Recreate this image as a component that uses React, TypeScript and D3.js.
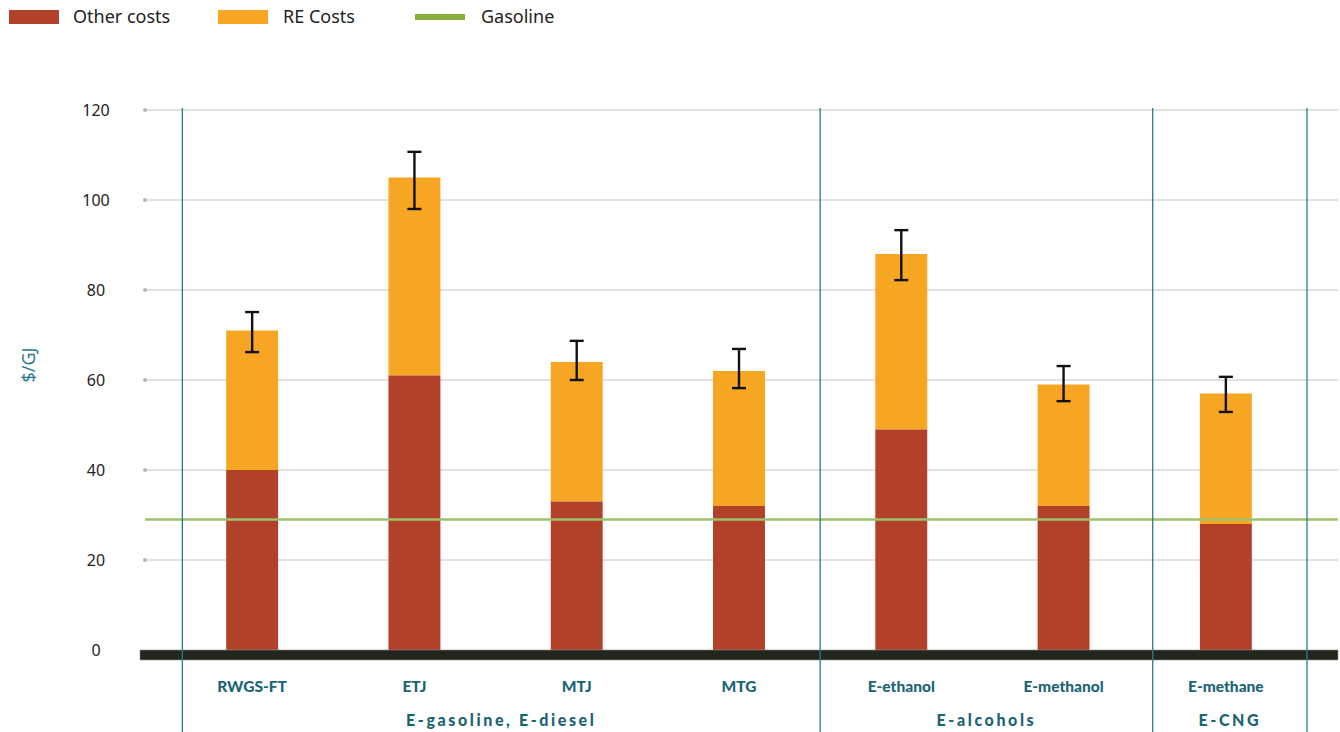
import React from "react";
import * as d3 from "d3";

const categories = ["RWGS-FT", "ETJ", "MTJ", "MTG", "E-ethanol", "E-methanol", "E-methane"];
const otherCosts = [40, 61, 33, 32, 49, 32, 28];
const totalCosts = [71, 105, 64, 62, 88, 59, 57];
const errLow = [66.2, 98, 60, 58.2, 82.2, 55.3, 52.9];
const errHigh = [75.1, 110.7, 68.7, 66.9, 93.3, 63.1, 60.7];
const gasoline = 29;
const yTicks = [0, 20, 40, 60, 80, 100, 120];
const groups = [
  { label: "E-gasoline, E-diesel", from: 0, to: 3 },
  { label: "E-alcohols", from: 4, to: 5 },
  { label: "E-CNG", from: 6, to: 6 },
];

const W = 1340;
const H = 732;
const C_OTHER = "#b2412a";
const C_RE = "#f6a623";
const C_GAS = "#8aae3c";
const C_TEAL = "#1b6474";
const C_DIV = "#2b7a8e";

export default function App() {
  const y = d3.scaleLinear().domain([0, 120]).range([650, 110]);
  const x = d3.scaleBand().domain(categories).range([171, 1307]).paddingInner(0.68).paddingOuter(0.34);
  const bw = x.bandwidth();
  const cx = (c: string) => (x(c) as number) + bw / 2;
  const step = x.step();
  const dividers = [
    cx(categories[0]) - step * 0.43,
    (cx(categories[3]) + cx(categories[4])) / 2,
    (cx(categories[5]) + cx(categories[6])) / 2 + 8,
    cx(categories[6]) + step * 0.5,
  ];
  const gridX0 = 145;
  const gridX1 = 1338;

  return (
    <svg width={W} height={H} style={{ display: "block", position: "absolute", left: 0, top: 0 }} fontFamily="'Noto Sans', 'Open Sans', sans-serif">
      {/* legend */}
      <g fontSize={18} fill="#222">
        <rect x={9} y={10} width={50} height={14} fill={C_OTHER} />
        <text x={73} y={23}>Other costs</text>
        <rect x={218} y={10} width={50} height={14} fill={C_RE} />
        <text x={283} y={23}>RE Costs</text>
        <rect x={415} y={14} width={50} height={6} fill={C_GAS} />
        <text x={481} y={23}>Gasoline</text>
      </g>

      {yTicks.filter((t) => t > 0).map((t) => (
        <g key={t}>
          <line x1={gridX0} x2={gridX1} y1={y(t)} y2={y(t)} stroke="#c4c4c4" strokeWidth={1} />
          <circle cx={gridX0} cy={y(t)} r={2} fill="#b8b8b8" />
        </g>
      ))}
      {yTicks.map((t) => (
        <text key={t} x={96} y={y(t) + 6} textAnchor="middle" fontSize={16} fill="#222">{t}</text>
      ))}
      <text transform={`translate(35,${365}) rotate(-90)`} textAnchor="middle" fontSize={18} fill={C_DIV}>$/GJ</text>

      {categories.map((c, i) => (
        <g key={c}>
          <rect x={x(c)} y={y(totalCosts[i])} width={bw} height={y(otherCosts[i]) - y(totalCosts[i])} fill={C_RE} />
          <rect x={x(c)} y={y(otherCosts[i])} width={bw} height={y(0) - y(otherCosts[i])} fill={C_OTHER} />
        </g>
      ))}

      <line x1={gridX0} x2={gridX1} y1={y(gasoline)} y2={y(gasoline)} stroke="#9dc06a" strokeWidth={2.5} />

      <rect x={140} y={650} width={1198} height={10} fill="#22261d" stroke="#8a8c84" strokeWidth={0.6} />

      {dividers.map((d, i) => (
        <line key={i} x1={d} x2={d} y1={108} y2={H} stroke={C_DIV} strokeWidth={1.3} />
      ))}

      {categories.map((c, i) => (
        <g key={c} stroke="#111" strokeWidth={2.4}>
          <line x1={cx(c)} x2={cx(c)} y1={y(errHigh[i])} y2={y(errLow[i])} />
          <line x1={cx(c) - 7} x2={cx(c) + 7} y1={y(errHigh[i])} y2={y(errHigh[i])} />
          <line x1={cx(c) - 7} x2={cx(c) + 7} y1={y(errLow[i])} y2={y(errLow[i])} />
        </g>
      ))}

      {categories.map((c) => (
        <text key={c} x={cx(c)} y={692} textAnchor="middle" fontSize={15.5} fontWeight={900} fill={C_TEAL} fontFamily="Lato, 'Noto Sans', sans-serif">{c}</text>
      ))}
      {groups.map((g, i) => (
        <text key={g.label} x={(dividers[i] + dividers[i + 1]) / 2} y={726} textAnchor="middle" fontSize={16} fontWeight={900} letterSpacing={2.6} fill={C_TEAL} fontFamily="Lato, 'Noto Sans', sans-serif">{g.label}</text>
      ))}
    </svg>
  );
}
